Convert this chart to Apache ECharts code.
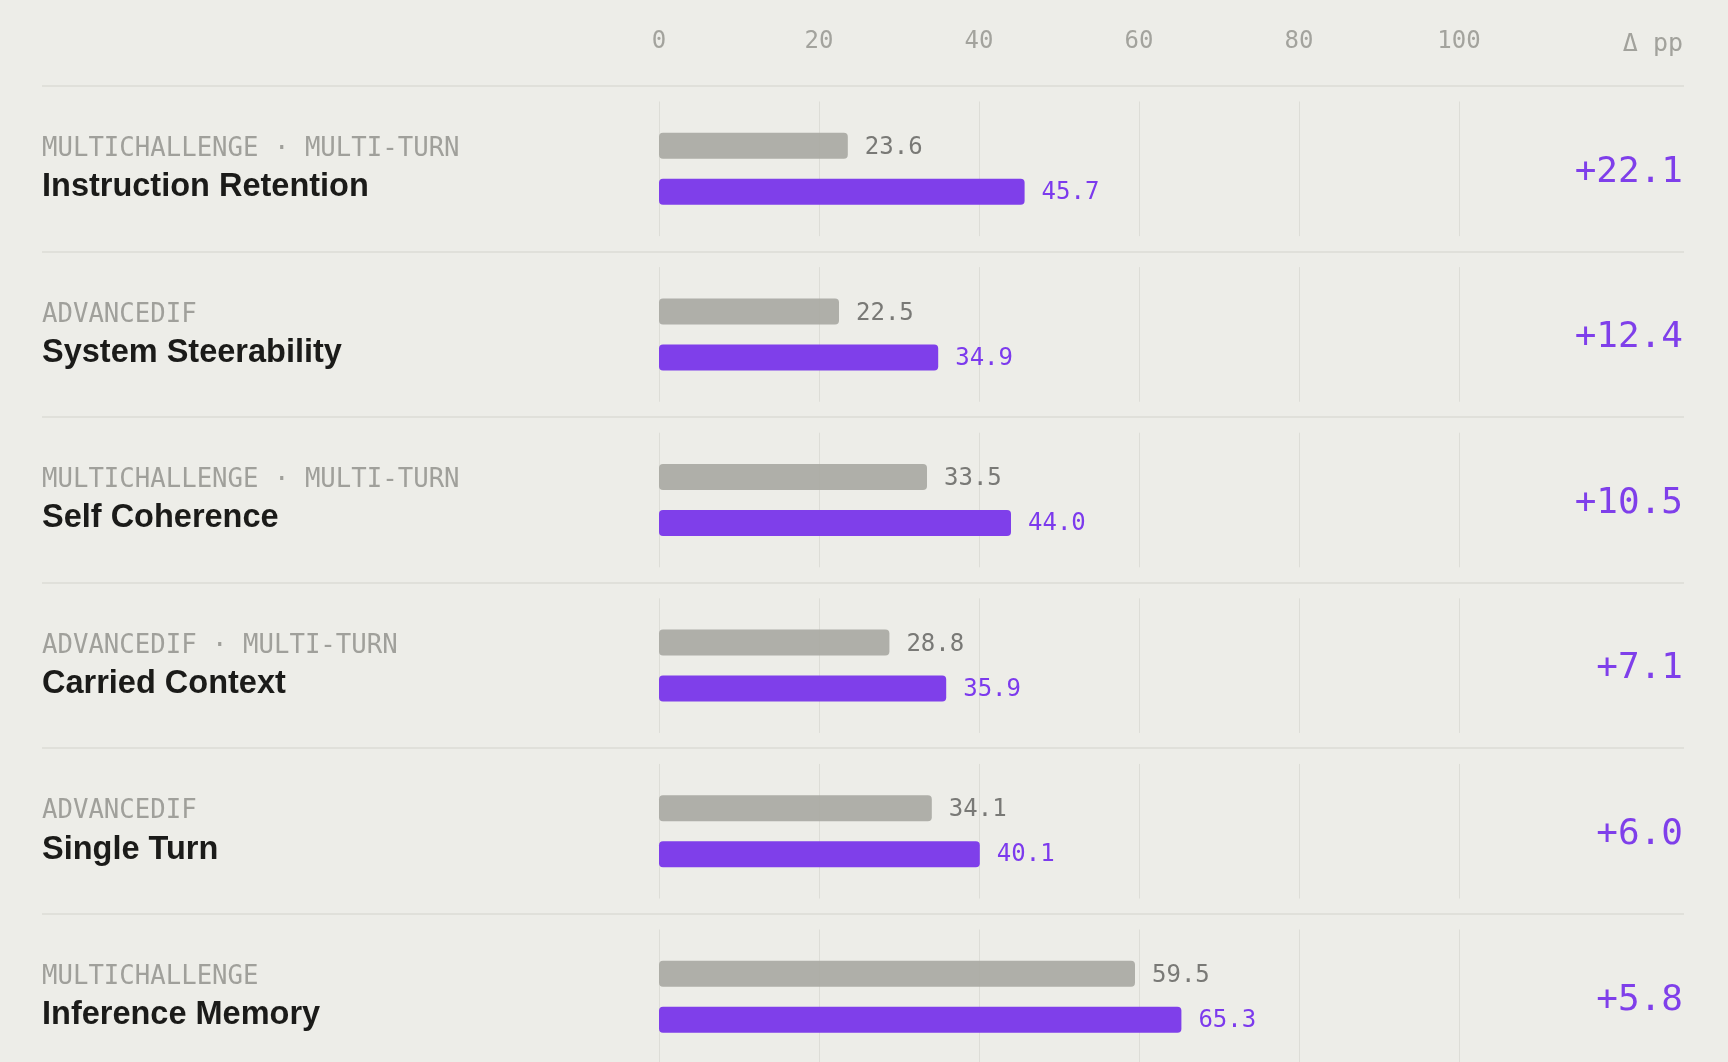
<!DOCTYPE html>
<html>
<head>
<meta charset="utf-8">
<script src="https://cdn.jsdelivr.net/npm/echarts@6/dist/echarts.min.js"></script>
<style>
  html, body { margin: 0; padding: 0; background: #EDEDE8; overflow: hidden; }
  #chart { width: 1728px; height: 1100px; }
</style>
</head>
<body>
<div id="chart"></div>
<script>
// ---- data ----
const categories = ['Instruction Retention', 'System Steerability', 'Self Coherence', 'Carried Context', 'Single Turn', 'Inference Memory'];
const sources = ['MULTICHALLENGE · MULTI-TURN', 'ADVANCEDIF', 'MULTICHALLENGE · MULTI-TURN', 'ADVANCEDIF · MULTI-TURN', 'ADVANCEDIF', 'MULTICHALLENGE'];
const baselineValues = [23.6, 22.5, 33.5, 28.8, 34.1, 59.5];
const improvedValues = [45.7, 34.9, 44.0, 35.9, 40.1, 65.3];
const deltaLabels = ['+22.1', '+12.4', '+10.5', '+7.1', '+6.0', '+5.8'];
const xTicks = [0, 20, 40, 60, 80, 100];
const headerDelta = 'Δ pp';

// ---- style constants ----
const MONO = "'DejaVu Sans Mono', monospace";
const SANS = "'Liberation Sans', Arial, sans-serif";
const PURPLE = '#7F3FEA';
const BG = '#EDEDE8';
const ROW_H = 165.6;
const GRID_TOP = 86;
const LINE_LEFT = 42;
const LINE_RIGHT = 1684;

const chart = echarts.init(document.getElementById('chart'), null, { renderer: 'canvas' });

const option = {
  backgroundColor: BG,
  animation: false,
  graphic: [{
    type: 'text',
    right: 1728 - 1683,
    top: 32,
    style: { text: headerDelta, font: '25px ' + MONO, fill: '#A2A29C', textAlign: 'right' }
  }],
  grid: { left: 659, width: 800, top: GRID_TOP, height: ROW_H * categories.length, containLabel: false },
  xAxis: {
    type: 'value', position: 'top', min: 0, max: 100, interval: 20,
    axisLine: { show: false }, axisTick: { show: false }, splitLine: { show: false },
    axisLabel: { fontFamily: MONO, fontSize: 24, color: '#A3A39D', margin: 32,
      formatter: v => xTicks.indexOf(v) >= 0 ? String(v) : '' }
  },
  yAxis: [{
    type: 'category', inverse: true, data: categories,
    axisLine: { show: false }, axisTick: { show: false }, splitLine: { show: false },
    axisLabel: {
      margin: 659 - LINE_LEFT, align: 'left', padding: [6, 0, 0, 0],
      formatter: (v, i) => '{tag|' + sources[i] + '}\n{title|' + v + '}',
      rich: {
        tag: { fontFamily: MONO, fontSize: 25.7, color: '#A0A09B', lineHeight: 31, align: 'left' },
        title: { fontFamily: SANS, fontWeight: 'bold', fontSize: 32.5, color: '#1B1B19', lineHeight: 45, align: 'left' }
      }
    }
  }, {
    type: 'category', inverse: true, data: categories, position: 'right',
    axisLine: { show: false }, axisTick: { show: false }, splitLine: { show: false },
    axisLabel: {
      margin: 1683 - 1459, align: 'right',
      formatter: (v, i) => '{d|' + deltaLabels[i] + '}',
      rich: {
        d: { fontFamily: MONO, fontSize: 36, color: PURPLE, lineHeight: 40, padding: [7, 0, 0, 0], align: 'right' }
      }
    }
  }],
  series: [{
    type: 'custom',
    z: 0,
    silent: true,
    clip: false,
    data: categories.map((c, i) => [0, i]),
    encode: { x: 0, y: 1 },
    renderItem: function (params, api) {
      const idx = api.value(1);
      const yc = api.coord([0, idx])[1];
      const bw = api.size([0, 1])[1];
      const top = yc - bw / 2;
      const children = [{
        type: 'line',
        shape: { x1: LINE_LEFT, y1: Math.round(top), x2: LINE_RIGHT, y2: Math.round(top) },
        style: { stroke: '#E0E0DA', lineWidth: 2 }
      }];
      xTicks.forEach(t => {
        const x = Math.round(api.coord([t, idx])[0]) + 0.5;
        children.push({
          type: 'line',
          shape: { x1: x, y1: top + 15.5, x2: x, y2: top + bw - 15.5 },
          style: { stroke: '#DDDDD7', lineWidth: 1 }
        });
      });
      return { type: 'group', children: children };
    }
  }, {
    name: 'Baseline', type: 'bar', yAxisIndex: 0, z: 2,
    data: baselineValues, barWidth: 26, barGap: '77%',
    itemStyle: { color: '#A9A9A3', opacity: 0.92, borderRadius: 4 },
    label: { show: true, position: 'right', distance: 17,
      formatter: p => '{v|' + p.value.toFixed(1) + '}',
      rich: { v: { fontFamily: MONO, fontSize: 24, color: '#6F6F6B', lineHeight: 28, padding: [4, 0, 0, 0] } } }
  }, {
    name: 'Improved', type: 'bar', yAxisIndex: 0, z: 2,
    data: improvedValues, barWidth: 26,
    itemStyle: { color: PURPLE, borderRadius: 4 },
    label: { show: true, position: 'right', distance: 17,
      formatter: p => '{v|' + p.value.toFixed(1) + '}',
      rich: { v: { fontFamily: MONO, fontSize: 24, color: '#7C3AED', lineHeight: 28, padding: [2, 0, 0, 0] } } }
  }]
};
chart.setOption(option);
</script>
</body>
</html>
